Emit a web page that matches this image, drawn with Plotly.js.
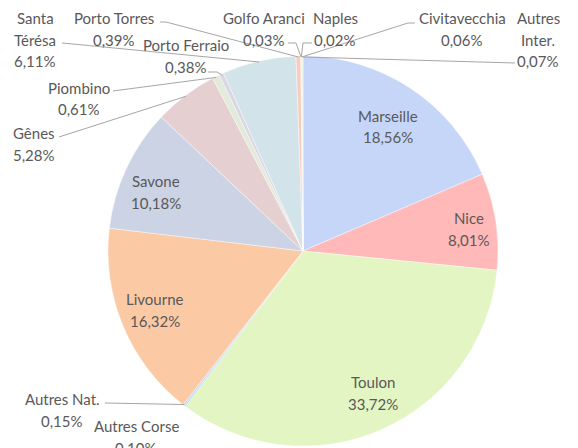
<!DOCTYPE html>
<html><head><meta charset="utf-8">
<script src="https://cdn.plot.ly/plotly-3.0.1.min.js"></script>
<style>html,body{margin:0;padding:0;background:#fff}#chart{width:578px;height:448px}</style>
</head><body><div id="chart"></div>
<script>
// ---- data ----
const ports = ['Marseille','Nice','Toulon','Autres Corse','Autres Nat.','Livourne','Savone','Gênes','Piombino','Porto Ferraio','Santa Térésa','Porto Torres','Golfo Aranci','Naples','Civitavecchia','Autres Inter.'];
const shares = [18.56, 8.01, 33.72, 0.10, 0.15, 16.32, 10.18, 5.28, 0.61, 0.38, 6.11, 0.39, 0.03, 0.02, 0.06, 0.07];

// ---- styles ----
const sliceColors = ['#c6d6f8','#ffb9b9','#e2f5c2','#9fd3f0','#c9d6ec','#fcc9a5','#cbd3e4','#e6cfd0','#e2ebd9','#dad7e3','#d3e3ea','#f8cbbd','#f6d2c6','#f3c1b5','#d8e4f4','#dde8d0'];
const W = 578, H = 448, CX = 303, CY = 251, R = 195;
const textColor = '#595959', lineColor = '#a6a6a6';
const FONT = 'Lato, "Open Sans", sans-serif';
const LH = 21.5;

// label layout: centre x, first line centre y, wrap name, leader start / elbow
const labelLayout = {
  'Marseille':     {x:388, y:116},
  'Nice':          {x:469, y:218},
  'Toulon':        {x:373, y:382},
  'Livourne':      {x:155, y:299},
  'Savone':        {x:156, y:181},
  'Autres Corse':  {x:136, y:426},
  'Autres Nat.':   {x:62,  y:399, from:[105,403]},
  'Gênes':         {x:34,  y:133, from:[59,137]},
  'Piombino':      {x:79,  y:88,  from:[113,91]},
  'Porto Ferraio': {x:186, y:45,  from:[208,72], elbow:[217,72]},
  'Santa Térésa':  {x:35,  y:18,  wrap:true, from:[62,43]},
  'Porto Torres':  {x:114, y:18,  from:[160,22], elbow:[166,22]},
  'Golfo Aranci':  {x:264, y:18,  from:[288,43], elbow:[296,43]},
  'Naples':        {x:335, y:18,  from:[312,43], elbow:[303,43]},
  'Civitavecchia': {x:462, y:18,  from:[415,23], elbow:[408,23]},
  'Autres Inter.': {x:538, y:18,  wrap:true, from:[515,63]}
};

const fx = px => px / W;
const fy = py => 1 - py / H;
const fmt = v => v.toFixed(2).replace('.', ',') + '%';

const total = shares.reduce((a, b) => a + b, 0);
let cum = 0;
const tips = shares.map(v => {
  const mid = (cum + v / 2) / total * 2 * Math.PI;
  cum += v;
  return [CX + R * 0.995 * Math.sin(mid), CY - R * 0.995 * Math.cos(mid)];
});

const annotations = [];
const shapes = [];
ports.forEach((p, i) => {
  const L = labelLayout[p];
  if (!L) return;
  const lines = (L.wrap ? p.split(' ') : [p]).concat([fmt(shares[i])]);
  lines.forEach((t, k) => {
    annotations.push({
      text: t, xref: 'paper', yref: 'paper', x: fx(L.x), y: fy(L.y + k * LH),
      xanchor: 'center', yanchor: 'middle', showarrow: false,
      font: {family: FONT, size: 15, color: textColor}
    });
  });
  if (L.from) {
    const pts = [L.from];
    if (L.elbow) pts.push(L.elbow);
    pts.push(tips[i]);
    const path = pts.map((q, k) => (k ? 'L ' : 'M ') + fx(q[0]).toFixed(5) + ' ' + fy(q[1]).toFixed(5)).join(' ');
    shapes.push({type: 'path', xref: 'paper', yref: 'paper', path: path,
      line: {color: lineColor, width: 1}});
  }
});

const trace = {
  type: 'pie', labels: ports, values: shares, sort: false,
  direction: 'clockwise', rotation: 0, textinfo: 'none',
  hoverinfo: 'label+percent',
  marker: {colors: sliceColors, line: {color: 'rgba(255,255,255,0.7)', width: 0.6}},
  domain: {x: [108 / W, 498 / W], y: [1 - 446 / H, 1 - 56 / H]},
  showlegend: false
};

const layout = {
  width: W, height: H, margin: {l: 0, r: 0, t: 0, b: 0},
  paper_bgcolor: '#ffffff', plot_bgcolor: '#ffffff',
  separators: ', ', showlegend: false,
  annotations: annotations, shapes: shapes
};

Plotly.newPlot('chart', [trace], layout, {displayModeBar: false, staticPlot: true});
</script>
</body></html>
